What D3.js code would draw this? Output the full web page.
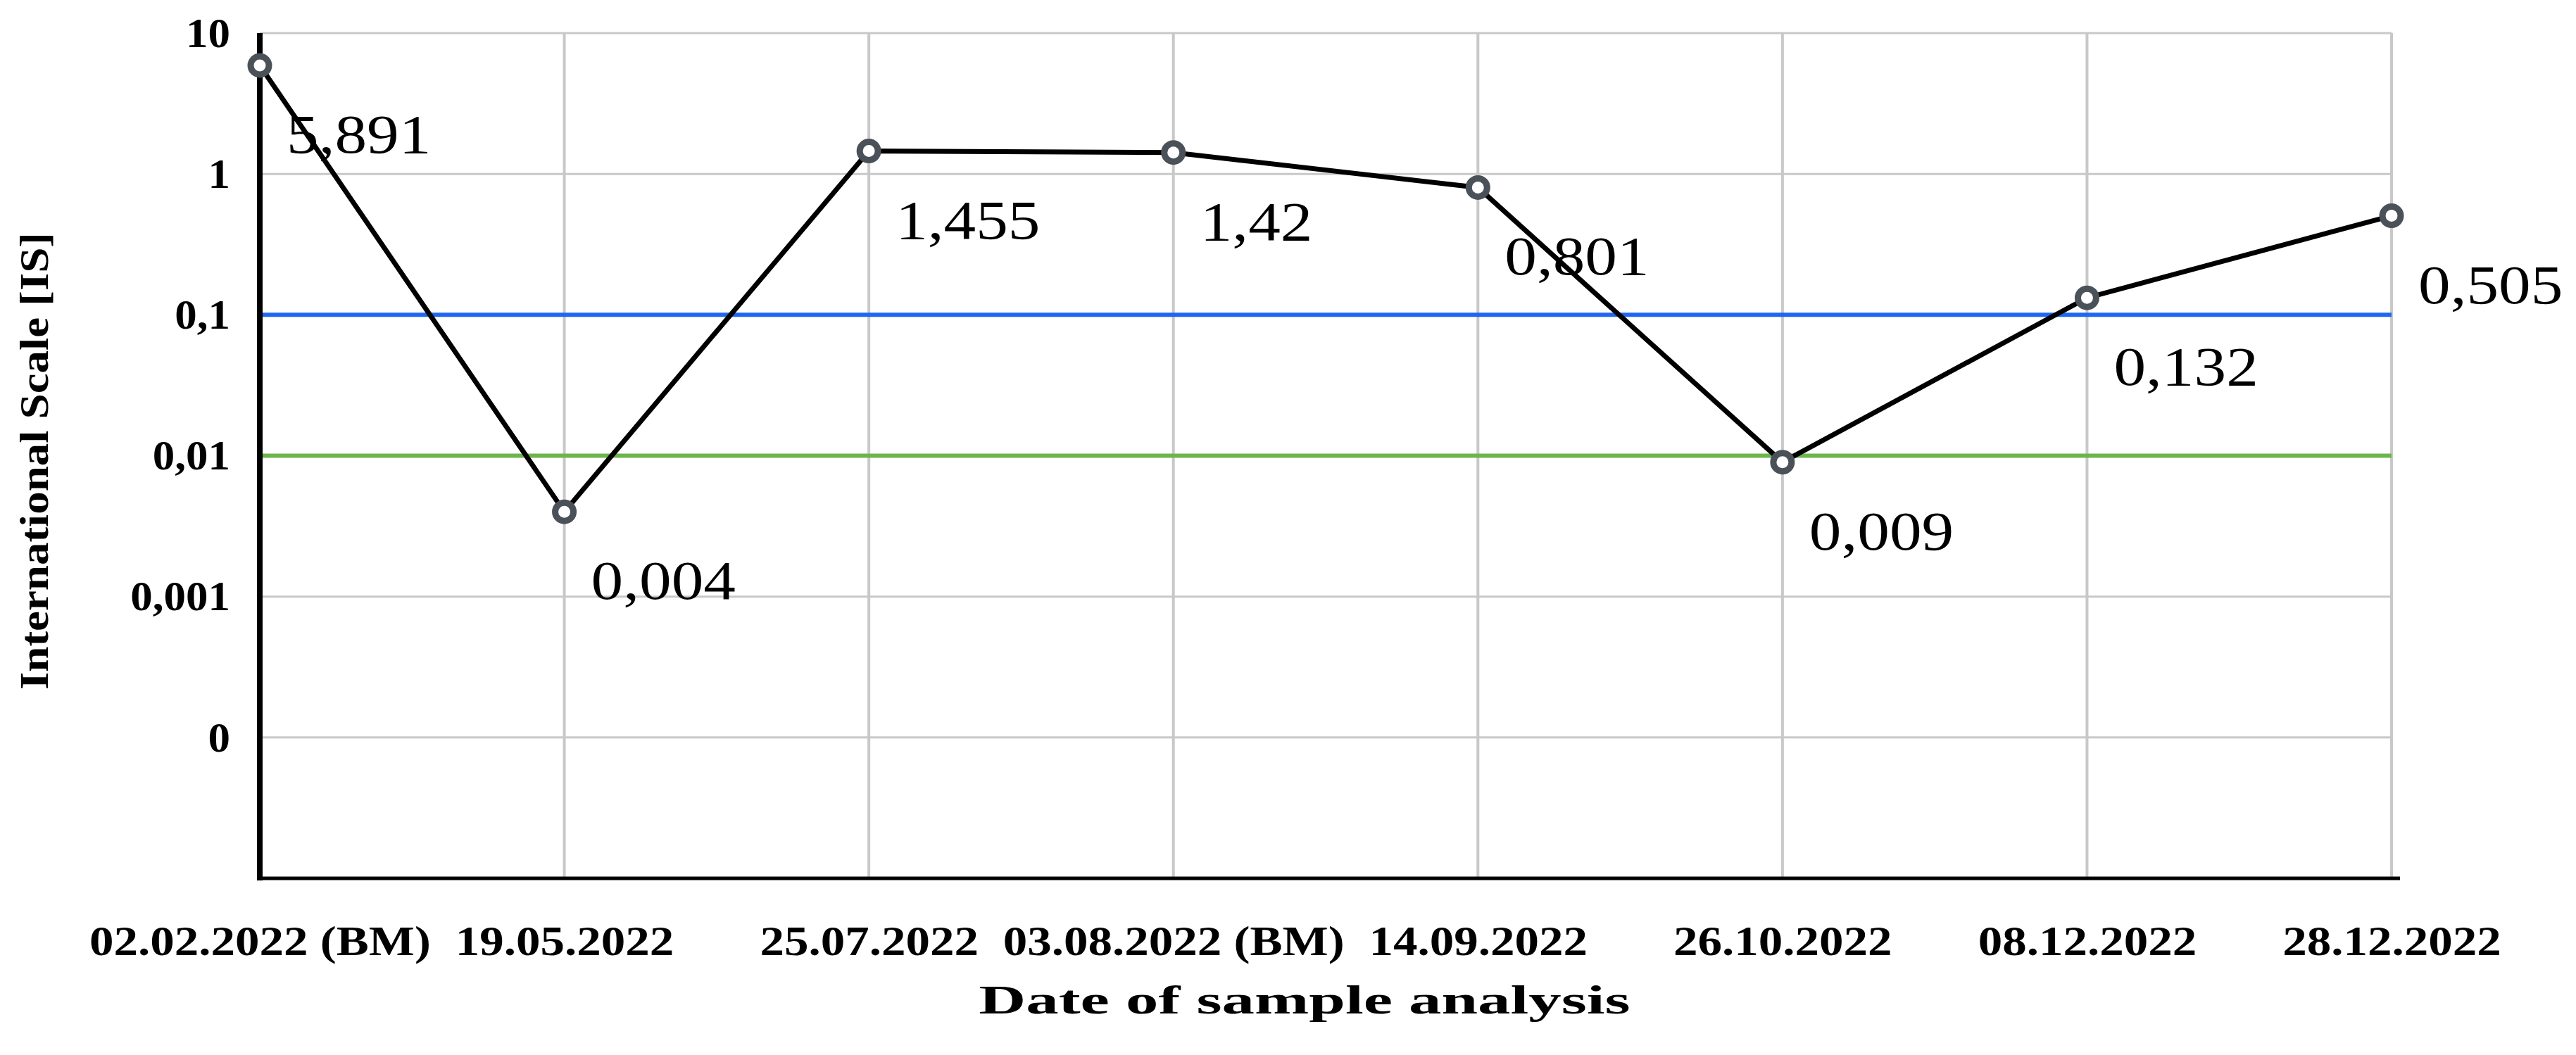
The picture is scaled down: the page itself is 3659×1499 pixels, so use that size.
<!DOCTYPE html>
<html><head><meta charset="utf-8">
<script src="https://cdn.jsdelivr.net/npm/d3@7"></script>
<style>body{margin:0;background:#fff}</style></head>
<body><svg id="c" width="3659" height="1499"></svg>
<script>
const categories=["02.02.2022 (BM)","19.05.2022","25.07.2022","03.08.2022 (BM)","14.09.2022","26.10.2022","08.12.2022","28.12.2022"];
const values=[5.891,0.004,1.455,1.42,0.801,0.009,0.132,0.505];
const valueLabels=["5,891","0,004","1,455","1,42","0,801","0,009","0,132","0,505"];
const yTicks=[10,1,0.1,0.01,0.001,0.0001];
const yTickLabels=["10","1","0,1","0,01","0,001","0"];
const refLines=[{v:0.1,c:"#1f66f0"},{v:0.01,c:"#6cb54c"}];

const svg=d3.select("#c");
const L=369,R=3397,T=47,B=1248;
const x=d3.scalePoint().domain(categories).range([L,R]);
const y=d3.scaleLog().domain([1e-5,10]).range([B,T]);
const serif="'Liberation Serif','Times New Roman',serif";
function stretch(sel,f){sel.each(function(){const w=this.getComputedTextLength();d3.select(this).attr("textLength",w*f).attr("lengthAdjust","spacingAndGlyphs");});}

svg.append("g").selectAll("line").data(yTicks).join("line")
 .attr("x1",L).attr("x2",R).attr("y1",d=>y(d)).attr("y2",d=>y(d))
 .attr("stroke","#c8c8c8").attr("stroke-width",3);
svg.append("g").selectAll("line").data(categories.slice(1)).join("line")
 .attr("x1",d=>x(d)).attr("x2",d=>x(d)).attr("y1",T).attr("y2",B)
 .attr("stroke","#c8c8c8").attr("stroke-width",4);
svg.append("g").selectAll("line").data(refLines).join("line")
 .attr("x1",L).attr("x2",R).attr("y1",d=>y(d.v)).attr("y2",d=>y(d.v))
 .attr("stroke",d=>d.c).attr("stroke-width",6);
const ya=svg.append("g").attr("transform",`translate(${L},0)`)
 .call(d3.axisLeft(y).tickValues(yTicks).tickFormat((d,i)=>yTickLabels[i]).tickSize(0).tickPadding(42));
ya.select(".domain").attr("stroke","#000").attr("stroke-width",8).attr("d",`M0,${T}V${B+3}`);
ya.selectAll("text").attr("font-family",serif).attr("font-weight","bold").attr("font-size",60).attr("fill","#000").call(stretch,1.05);
const xa=svg.append("g").attr("transform",`translate(0,${B})`)
 .call(d3.axisBottom(x).tickSize(0).tickPadding(66));
xa.select(".domain").attr("stroke","#000").attr("stroke-width",5).attr("d",`M${L-4},0H${R+12}`);
xa.selectAll("text").attr("font-family",serif).attr("font-weight","bold").attr("font-size",60).attr("fill","#000").call(stretch,1.15);
svg.append("text").attr("x",(L+R)/2-30).attr("y",1440).attr("text-anchor","middle")
 .attr("font-family",serif).attr("font-weight","bold").attr("font-size",58).text("Date of sample analysis").call(stretch,1.6);
svg.append("text").attr("transform","translate(68,655) rotate(-90)").attr("text-anchor","middle")
 .attr("font-family",serif).attr("font-weight","bold").attr("font-size",56).text("International Scale [IS]")
 .attr("textLength",650).attr("lengthAdjust","spacingAndGlyphs");
const pts=categories.map((c,i)=>[x(c),y(values[i])]);
svg.append("path").attr("d",d3.line()(pts)).attr("fill","none").attr("stroke","#000").attr("stroke-width",7);
svg.append("g").selectAll("circle").data(pts).join("circle")
 .attr("cx",d=>d[0]).attr("cy",d=>d[1]).attr("r",13)
 .attr("fill","#fff").attr("stroke","#4b5159").attr("stroke-width",9);
svg.append("g").selectAll("text").data(pts).join("text")
 .attr("x",d=>d[0]+38).attr("y",d=>d[1]+124)
 .attr("font-family",serif).attr("font-size",78).attr("fill","#000")
 .text((d,i)=>valueLabels[i]).call(stretch,1.17);
</script></body></html>
